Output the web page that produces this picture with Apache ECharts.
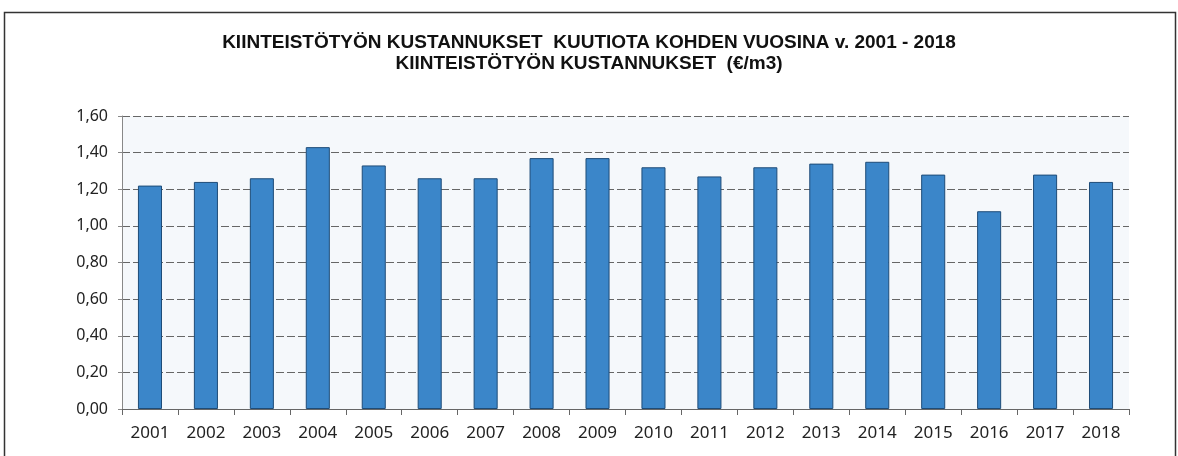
<!DOCTYPE html>
<html>
<head>
<meta charset="utf-8">
<script src="https://cdn.jsdelivr.net/npm/echarts@6/dist/echarts.min.js"></script>
<style>
  html, body { margin: 0; padding: 0; background: #fff; }
  #chart { width: 1178px; height: 456px; }
</style>
</head>
<body>
<div id="chart"></div>
<script>
// vuodet ja kustannukset (€/m3), luettu kuvasta
const years = ['2001', '2002', '2003', '2004', '2005', '2006', '2007', '2008', '2009',
  '2010', '2011', '2012', '2013', '2014', '2015', '2016', '2017', '2018'];
const costs = [1.22, 1.24, 1.26, 1.43, 1.33, 1.26, 1.26, 1.37, 1.37,
  1.32, 1.27, 1.32, 1.34, 1.35, 1.28, 1.08, 1.28, 1.24];

const titleLine1 = 'KIINTEISTÖTYÖN KUSTANNUKSET  KUUTIOTA KOHDEN VUOSINA v. 2001 - 2018';
const titleLine2 = 'KIINTEISTÖTYÖN KUSTANNUKSET  (€/m3)';

const chart = echarts.init(document.getElementById('chart'));

const option = {
  backgroundColor: '#fff',
  animation: false,
  title: {
    text: titleLine1 + '\n' + titleLine2,
    left: 'center',
    top: 27,
    textStyle: {
      fontFamily: 'Liberation Sans',
      fontWeight: 'bold',
      fontSize: 19,
      lineHeight: 21,
      color: '#111'
    }
  },
  graphic: [
    {
      type: 'rect',
      shape: {x: 4.5, y: 12.5, width: 1171, height: 470},
      style: {fill: 'none', stroke: '#333', lineWidth: 1.5},
      silent: true
    }
  ],
  grid: {
    left: 122,
    right: 49,
    top: 116,
    bottom: 47,
    show: true,
    backgroundColor: '#f5f8fb',
    borderWidth: 0
  },
  xAxis: {
    type: 'category',
    data: years,
    axisLine: {lineStyle: {color: '#666', width: 1}},
    axisTick: {show: true, length: 6, lineStyle: {color: '#666'}},
    axisLabel: {
      fontFamily: 'Noto Sans',
      fontSize: 17,
      color: '#222',
      margin: 16
    }
  },
  yAxis: {
    type: 'value',
    min: 0,
    max: 1.6,
    interval: 0.2,
    axisLine: {show: true, lineStyle: {color: '#888'}},
    axisTick: {show: true, length: 4, lineStyle: {color: '#888'}},
    axisLabel: {
      fontFamily: 'Noto Sans',
      fontSize: 16,
      color: '#222',
      margin: 14,
      formatter: v => v.toFixed(2).replace('.', ',')
    },
    splitLine: {
      show: true,
      lineStyle: {color: '#666', type: [8, 3], width: 1}
    }
  },
  series: [
    {
      type: 'bar',
      data: costs,
      barWidth: '43%',
      itemStyle: {
        color: '#3b86c9',
        borderColor: '#1e4c78',
        borderWidth: 1
      }
    }
  ]
};

chart.setOption(option);
</script>
</body>
</html>
